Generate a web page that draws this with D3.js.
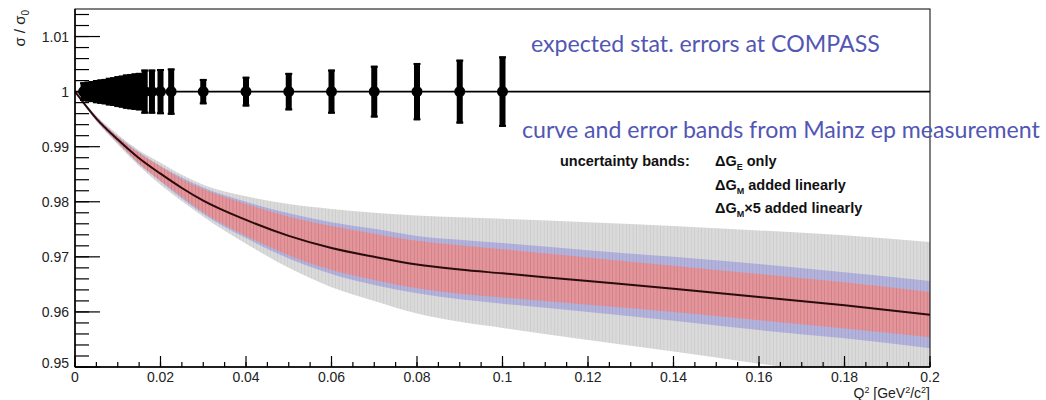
<!DOCTYPE html>
<html>
  <head>
    <meta charset="UTF-8">
    <script src="https://d3js.org/d3.v7.min.js"></script>
    <title>sigma / sigma0 vs Q2</title>
    <style>
      body { margin: 0; background: #fff; }
      svg { display: block; font-family: "Liberation Sans", Arial, sans-serif; }
    </style>
  </head>

  <body>
    <svg id="f1" height="400" width="1046"></svg>
    <script>

    var qGrid  = [0, 0.005, 0.01, 0.015, 0.02, 0.025, 0.03, 0.04, 0.05, 0.06, 0.07, 0.08, 0.09, 0.10, 0.12, 0.14, 0.16, 0.18, 0.20];
    var ratio  = [1.0, 0.9951, 0.9913, 0.9879, 0.9851, 0.9825, 0.9802, 0.9767, 0.9738, 0.9716, 0.9700, 0.9686, 0.9677, 0.9670, 0.9656, 0.9642, 0.9627, 0.9612, 0.9595];
    // half widths of the uncertainty bands
    var bandGE   = [0, 0.0003, 0.0005, 0.0009, 0.0013, 0.0016, 0.0021, 0.0029, 0.0035, 0.0040, 0.0042, 0.0043, 0.0044, 0.0044, 0.0043, 0.0042, 0.0042, 0.0042, 0.0041];
    var bandGM   = [0, 0.0004, 0.0006, 0.0011, 0.0014, 0.0019, 0.0024, 0.0033, 0.0041, 0.0047, 0.0051, 0.0052, 0.0054, 0.0055, 0.0056, 0.0058, 0.0060, 0.0060, 0.0061];
    var bandGM5  = [0, 0.0005, 0.0009, 0.0014, 0.0020, 0.0024, 0.0029, 0.0043, 0.0058, 0.0071, 0.0080, 0.0089, 0.0095, 0.0099, 0.0107, 0.0114, 0.0121, 0.0127, 0.0132];

    // expected stat. errors at COMPASS (points sit at 1)
    var statQ   = [0.002, 0.003, 0.004, 0.005, 0.006, 0.007, 0.008, 0.009, 0.010, 0.011, 0.012, 0.013, 0.014, 0.015,
                   0.0163, 0.018, 0.020, 0.0225, 0.03, 0.04, 0.05, 0.06, 0.07, 0.08, 0.09, 0.10];
    var statErr = [0.0017, 0.0018, 0.0019, 0.0021, 0.0022, 0.0023, 0.0025, 0.0026, 0.0028, 0.0029, 0.0031, 0.0032, 0.0033, 0.0034,
                   0.0040, 0.0040, 0.0041, 0.0042, 0.0023, 0.0027, 0.0034, 0.0040, 0.0047, 0.0052, 0.0058, 0.0064];

    var xTicks = [0, 0.02, 0.04, 0.06, 0.08, 0.1, 0.12, 0.14, 0.16, 0.18, 0.2];
    var yTicks = [0.95, 0.96, 0.97, 0.98, 0.99, 1, 1.01];

    var svg = d3.select("#f1");
    var pL = 75, pR = 930, pT = 9, pB = 367;   // frame of the pad

    var x = d3.scaleLinear().domain([0, 0.2]).range([pL, pR]);
    var y = d3.scaleLinear().domain([0.95, 1.015]).range([pB, pT]);

    var rows = qGrid.map(function(q, i) {
      return { q: q, v: ratio[i], e: bandGE[i], m: bandGM[i], m5: bandGM5[i] };
    });

    var defs = svg.append("defs");
    defs.append("clipPath").attr("id", "plotclip")
      .append("rect").attr("x", pL).attr("y", pT)
      .attr("width", pR - pL).attr("height", pB - pT);

    // vertical stripes, like the histogram bins of the original
    function stripes(id, base, line) {
      var p = defs.append("pattern").attr("id", id)
        .attr("patternUnits", "userSpaceOnUse")
        .attr("width", 3.42).attr("height", 10);
      p.append("rect").attr("width", 3.42).attr("height", 10).attr("fill", base);
      p.append("rect").attr("width", 0.8).attr("height", 10).attr("fill", line);
    }
    stripes("pGray", "#dadada", "#cbcbcb");
    stripes("pBlue", "#b3b3dc", "#a2a2d0");
    stripes("pRed", "#e2959a", "#d27c83");

    var plot = svg.append("g").attr("clip-path", "url(#plotclip)");

    function band(key, fill) {
      var area = d3.area()
        .x(function(d) { return x(d.q); })
        .y0(function(d) { return y(d.v - d[key]); })
        .y1(function(d) { return y(d.v + d[key]); })
        .curve(d3.curveMonotoneX);
      plot.append("path").datum(rows).attr("d", area).attr("fill", fill);
    }
    band("m5", "url(#pGray)");
    band("m", "url(#pBlue)");
    band("e", "url(#pRed)");

    var line = d3.line()
      .x(function(d) { return x(d.q); })
      .y(function(d) { return y(d.v); })
      .curve(d3.curveMonotoneX);
    plot.append("path").datum(rows).attr("d", line)
      .attr("fill", "none").attr("stroke", "#2a0c0c").attr("stroke-width", 2);

    // line at 1
    plot.append("line")
      .attr("x1", pL).attr("x2", pR)
      .attr("y1", y(1)).attr("y2", y(1))
      .attr("stroke", "#000").attr("stroke-width", 1.6);

    // stat error bars
    var pts = statQ.map(function(q, i) { return { q: q, e: statErr[i] }; });
    var bars = plot.append("g").selectAll("g").data(pts).enter().append("g");
    bars.append("rect")
      .attr("x", function(d) { return x(d.q) - 3; })
      .attr("y", function(d) { return y(1 + d.e); })
      .attr("width", 6)
      .attr("height", function(d) { return y(1 - d.e) - y(1 + d.e); })
      .attr("fill", "#000");
    // small end caps
    bars.selectAll(".cap")
      .data(function(d) { return [1 + d.e, 1 - d.e].map(function(v) { return { q: d.q, v: v }; }); })
      .enter().append("rect")
      .attr("x", function(d) { return x(d.q) - 3.5; })
      .attr("y", function(d) { return y(d.v) - (d.v > 1 ? 0 : 2); })
      .attr("width", 7).attr("height", 2)
      .attr("fill", "#000");
    bars.append("circle")
      .attr("cx", function(d) { return x(d.q); })
      .attr("cy", y(1))
      .attr("r", 5.5)
      .attr("fill", "#000");

    // frame
    svg.append("rect")
      .attr("x", pL).attr("y", pT)
      .attr("width", pR - pL).attr("height", pB - pT)
      .attr("fill", "none").attr("stroke", "#000").attr("stroke-width", 1);

    // y axis, ticks inside
    var yMinor = d3.range(0, 33).map(function(i) { return 0.95 + i * 0.002; });
    var yAx = svg.append("g");
    yAx.append("line").attr("x1", pL).attr("x2", pL).attr("y1", pT).attr("y2", pB)
      .attr("stroke", "#000").attr("stroke-width", 1.5);
    yAx.selectAll(".ym").data(yMinor).enter().append("line")
      .attr("x1", pL).attr("x2", pL + 14)
      .attr("y1", function(d) { return y(d); }).attr("y2", function(d) { return y(d); })
      .attr("stroke", "#000").attr("stroke-width", 1.2);
    yAx.selectAll(".yM").data(yTicks).enter().append("line")
      .attr("x1", pL).attr("x2", pL + 25)
      .attr("y1", function(d) { return y(d); }).attr("y2", function(d) { return y(d); })
      .attr("stroke", "#000").attr("stroke-width", 1.2);
    yAx.selectAll("text").data(yTicks).enter().append("text")
      .attr("x", pL - 6)
      .attr("y", function(d) { return y(d) + (d === 0.95 ? 1 : 5); })
      .attr("text-anchor", "end")
      .attr("font-size", 14)
      .attr("fill", "#222")
      .text(function(d) { return d === 1 ? "1" : d3.format(".2f")(d); });

    // x axis, ticks inside
    var xMinor = d3.range(0, 41).map(function(i) { return i * 0.005; });
    var xAx = svg.append("g");
    xAx.append("line").attr("x1", pL).attr("x2", pR).attr("y1", pB).attr("y2", pB)
      .attr("stroke", "#000").attr("stroke-width", 1.5);
    xAx.selectAll(".xm").data(xMinor).enter().append("line")
      .attr("x1", function(d) { return x(d); }).attr("x2", function(d) { return x(d); })
      .attr("y1", pB).attr("y2", pB - 5)
      .attr("stroke", "#000").attr("stroke-width", 1.2);
    xAx.selectAll(".xM").data(xTicks).enter().append("line")
      .attr("x1", function(d) { return x(d); }).attr("x2", function(d) { return x(d); })
      .attr("y1", pB).attr("y2", pB - 11)
      .attr("stroke", "#000").attr("stroke-width", 1.2);
    xAx.selectAll("text").data(xTicks).enter().append("text")
      .attr("x", function(d) { return x(d); })
      .attr("y", pB + 15)
      .attr("text-anchor", "middle")
      .attr("font-size", 14)
      .attr("fill", "#222")
      .text(function(d) { return d === 0 ? "0" : d3.format("~g")(d); });

    // axis titles
    var xt = svg.append("text").attr("x", pR).attr("y", 398)
      .attr("text-anchor", "end").attr("font-size", 14).attr("fill", "#222");
    xt.append("tspan").text("Q");
    xt.append("tspan").attr("font-size", 9).attr("dy", -5).text("2");
    xt.append("tspan").attr("dy", 5).text(" [GeV");
    xt.append("tspan").attr("font-size", 9).attr("dy", -5).text("2");
    xt.append("tspan").attr("dy", 5).text("/c");
    xt.append("tspan").attr("font-size", 9).attr("dy", -5).text("2");
    xt.append("tspan").attr("dy", 5).text("]");

    var yt = svg.append("text")
      .attr("transform", "translate(25,10) rotate(-90)")
      .attr("text-anchor", "end").attr("font-size", 15).attr("fill", "#222");
    yt.append("tspan").text("σ / σ");
    yt.append("tspan").attr("font-size", 10).attr("dy", 4).text("0");

    // blue annotations
    function fitText(txt, x0, y0, w) {
      var t = svg.append("text").attr("x", x0).attr("y", y0)
        .attr("font-family", "Lato, 'Open Sans', sans-serif")
        .attr("font-size", 20).attr("fill", "#5256b4").text(txt);
      var len = t.node().getComputedTextLength();
      t.attr("font-size", 20 * w / len);
    }
    fitText("expected stat. errors at COMPASS", 531, 52, 349);
    fitText("curve and error bands from Mainz ep measurement", 522, 138, 518);

    // legend text
    var lg = svg.append("g").attr("font-weight", "bold").attr("font-size", 14.5).attr("fill", "#111");
    lg.append("text").attr("x", 560).attr("y", 166).text("uncertainty bands:");
    var legendRows = [["E", " only", 166], ["M", " added linearly", 190], ["M", "×5 added linearly", 213]];
    legendRows.forEach(function(r) {
      var t = lg.append("text").attr("x", 715).attr("y", r[2]);
      t.append("tspan").text("ΔG");
      t.append("tspan").attr("font-size", 9).attr("dy", 4).text(r[0]);
      t.append("tspan").attr("dy", -4).text(r[1]);
    });

    </script>
  </body>
</html>
